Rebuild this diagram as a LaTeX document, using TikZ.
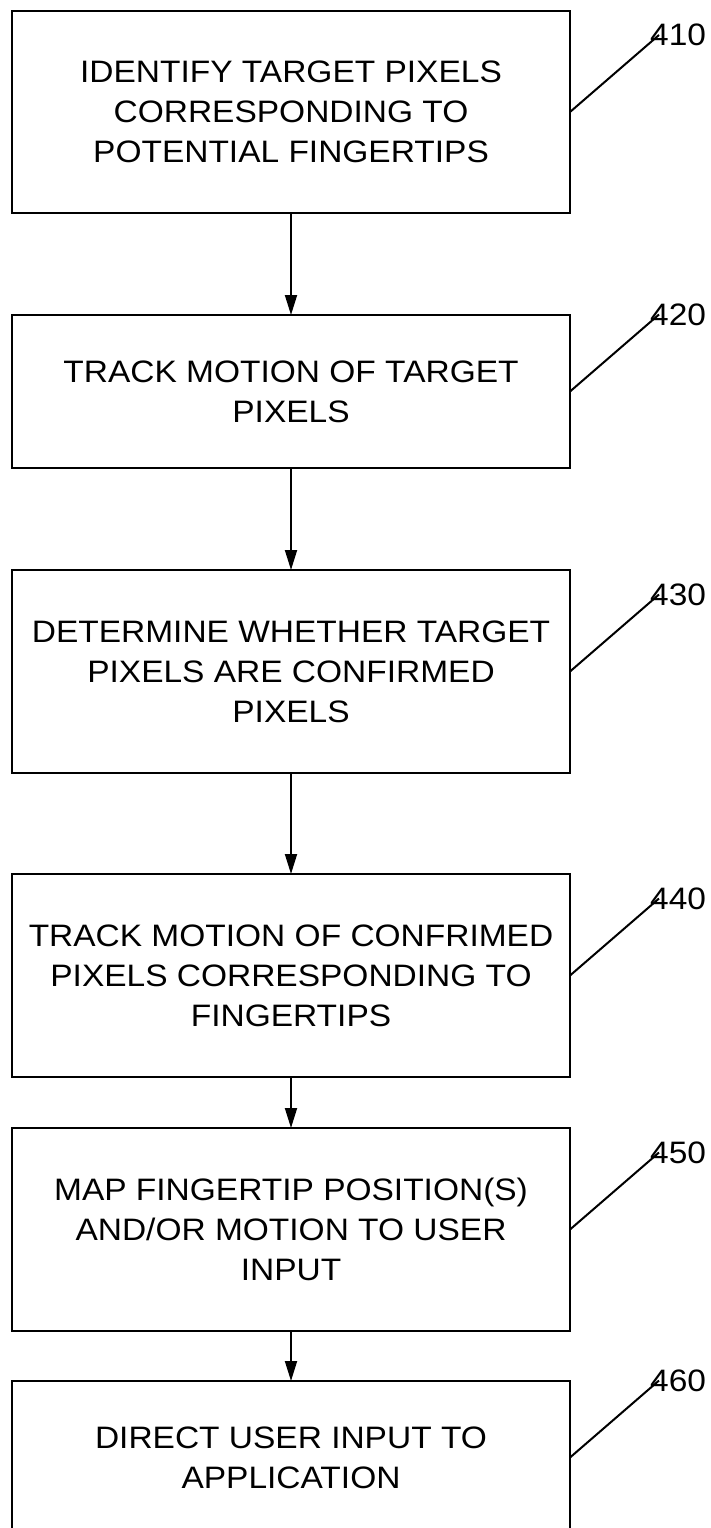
\documentclass[tikz,border=0pt]{standalone}
\usepackage{fontspec}
\newfontfamily\flowfont[FakeStretch=1.08]{Liberation Sans}
\usetikzlibrary{arrows.meta, positioning, calc}

\tikzset{
  stepbox/.style={draw, line width=2.6pt, minimum width=558pt, inner sep=0pt, outer sep=0pt,
    align=center, font=\fontsize{31pt}{40pt}\selectfont\flowfont},
  reflabel/.style={anchor=west, inner sep=0pt, font=\fontsize{31pt}{40pt}\selectfont\flowfont},
  flow/.style={line width=1.8pt, -{Triangle[length=20pt,width=12pt]}},
  leader/.style={line width=2pt}
}

\begin{document}
\begin{tikzpicture}
\useasboundingbox (0pt,0pt) rectangle (711pt,-1528pt);

% steps
\node[stepbox, minimum height=202pt] (s410) at (291pt,-112pt)
    {IDENTIFY TARGET PIXELS\\CORRESPONDING TO\\POTENTIAL FINGERTIPS};
\node[stepbox, minimum height=153pt, below=102pt of s410] (s420)
    {TRACK MOTION OF TARGET\\PIXELS};
\node[stepbox, minimum height=203pt, below=102pt of s420] (s430)
    {DETERMINE WHETHER TARGET\\PIXELS ARE CONFIRMED\\PIXELS};
\node[stepbox, minimum height=203pt, below=101pt of s430] (s440)
    {TRACK MOTION OF CONFRIMED\\PIXELS CORRESPONDING TO\\FINGERTIPS};
\node[stepbox, minimum height=203pt, below=51pt of s440] (s450)
    {MAP FINGERTIP POSITION(S)\\AND/OR MOTION TO USER\\INPUT};
\node[stepbox, minimum height=153pt, below=50pt of s450] (s460)
    {DIRECT USER INPUT TO\\APPLICATION};

% arrows
\draw[flow] (s410) -- (s420);
\draw[flow] (s420) -- (s430);
\draw[flow] (s430) -- (s440);
\draw[flow] (s440) -- (s450);
\draw[flow] (s450) -- (s460);

% reference numerals
\node[reflabel] (r410) at ($(s410.east)+(80pt,77pt)$) {410};
\node[reflabel] (r420) at ($(s420.east)+(80pt,77pt)$) {420};
\node[reflabel] (r430) at ($(s430.east)+(80pt,77pt)$) {430};
\node[reflabel] (r440) at ($(s440.east)+(80pt,77pt)$) {440};
\node[reflabel] (r450) at ($(s450.east)+(80pt,77pt)$) {450};
\node[reflabel] (r460) at ($(s460.east)+(80pt,77pt)$) {460};
\draw[leader] (s410.east) -- ([xshift=9pt]r410.west);
\draw[leader] (s420.east) -- ([xshift=9pt]r420.west);
\draw[leader] (s430.east) -- ([xshift=9pt]r430.west);
\draw[leader] (s440.east) -- ([xshift=9pt]r440.west);
\draw[leader] (s450.east) -- ([xshift=9pt]r450.west);
\draw[leader] (s460.east) -- ([xshift=9pt]r460.west);
\end{tikzpicture}
\end{document}
